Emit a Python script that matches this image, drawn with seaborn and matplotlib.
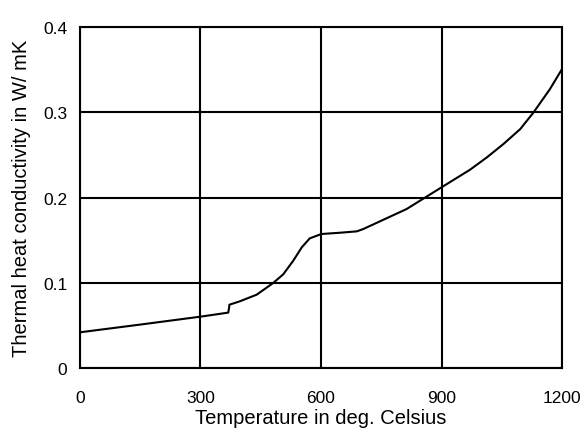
import matplotlib
matplotlib.use("Agg")
import matplotlib.pyplot as plt
import seaborn as sns
import pandas as pd

temperature = [0, 149, 299, 369, 371, 372, 398, 440, 481, 506, 531, 552, 572, 601, 647, 689, 705,
               813, 900, 971, 1013, 1054, 1096, 1129, 1170, 1200]
conductivity = [0.0419, 0.0509, 0.0602, 0.0650, 0.0700, 0.0743, 0.0783, 0.0861, 0.0998, 0.1100, 0.1260,
                0.1416, 0.1522, 0.1573, 0.1588, 0.1604, 0.1631, 0.1866, 0.2121, 0.2328, 0.2473,
                0.2629, 0.2805, 0.3000, 0.3275, 0.3510]
x_ticks = [0, 300, 600, 900, 1200]
y_ticks = [0, 0.1, 0.2, 0.3, 0.4]
y_tick_labels = ["0", "0.1", "0.2", "0.3", "0.4"]

df = pd.DataFrame({"T": temperature, "k": conductivity})

sns.set_style("white")
plt.rcParams['font.family'] = ['Liberation Sans', 'DejaVu Sans']

fig = plt.figure(figsize=(5.83, 4.39), dpi=100)
ax = fig.add_axes([0.1372, 0.1595, 0.8268, 0.776])
sns.lineplot(data=df, x="T", y="k", ax=ax, color="black", linewidth=1.5, zorder=3)

ax.set_xlim(0, 1200)
ax.set_ylim(0, 0.4)
ax.set_xticks(x_ticks)
ax.set_xticklabels([str(t) for t in x_ticks])
ax.set_yticks(y_ticks)
ax.set_yticklabels(y_tick_labels)
ax.grid(True, color="black", linewidth=1.5)
for s in ax.spines.values():
    s.set_color("black")
    s.set_linewidth(1.5)
ax.tick_params(axis="x", length=0, pad=16, labelsize=12.5, labelcolor="black")
ax.tick_params(axis="y", length=0, pad=9, labelsize=12.5, labelcolor="black")
ax.set_xlabel("Temperature in deg. Celsius", fontsize=14.5, labelpad=2, color="black")
ax.set_ylabel("Thermal heat conductivity in W/ mK", fontsize=14.5, labelpad=9, color="black")

fig.savefig("out.png", dpi=100)
